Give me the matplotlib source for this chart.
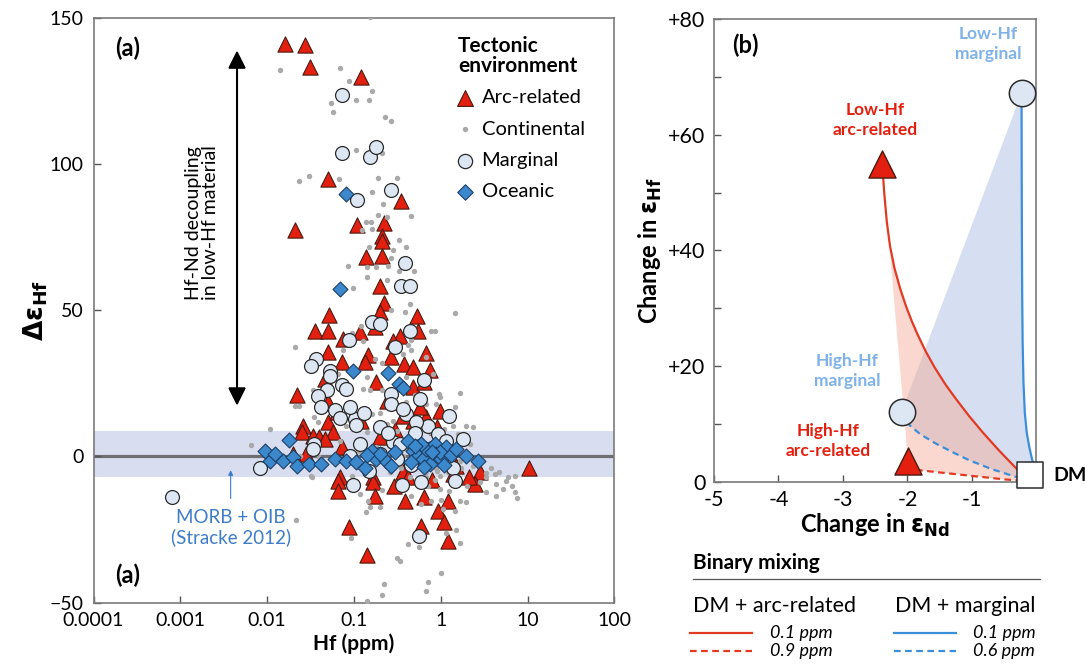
import matplotlib.pyplot as plt
from matplotlib.lines import Line2D
import numpy as np

plt.rcParams['font.family'] = ['Lato', 'DejaVu Sans']
plt.rcParams['mathtext.fontset'] = 'dejavusans'

# ---------------- panel (a): Hf (ppm) vs delta eps Hf ----------------
arc_hf = [0.016, 0.027, 0.031, 0.122,
          0.050, 0.35, 0.021, 0.109, 0.22, 0.213, 0.213, 0.137, 0.213, 0.198,
          0.22, 0.198, 0.052, 0.53, 0.036, 0.050, 0.174, 0.117, 0.55, 0.075, 0.34, 0.28,
          0.050, 0.145, 0.27, 0.68, 0.072, 0.133, 0.38, 0.48, 0.75, 0.046, 0.18, 0.48, 0.65, 0.022,
          0.026, 0.025, 0.050, 0.057, 0.034, 0.040, 0.046, 0.072, 0.028, 0.050, 0.063, 0.48,
          0.68, 0.97, 0.37, 0.57, 0.198, 2.8, 0.069, 0.166, 0.37, 0.020, 1.5,
          0.066, 0.065, 0.166, 0.174, 0.29, 0.385, 0.65, 1.21, 0.93, 1.08, 0.6, 1.21, 0.088,
          0.14, 2.5, 0.42, 10.4, 2.1,
          0.3, 0.55, 0.8, 1.4, 0.9, 0.24, 0.12]
arc_d = [141.3, 140.7, 133.2, 129.8,
         95, 87.6, 77.5, 79.4, 79.8, 75.6, 73.9, 68.2, 68.8, 58.2,
         52.5, 49.4, 48.6, 48.2, 42.9, 42.9, 44.2, 42.5, 42.9, 40.3, 41.4, 39.7,
         35.7, 34.9, 34, 35.4, 32.5, 32.3, 31.5, 30.6, 29.7, 26.6, 25.4, 23.7, 25.4, 20.9,
         10.5, 8.3, 11.7, 8.3, 7.1, 6.5, 6.0, 3.1, 0.9, 18.5, 15.1, 12.3,
         13.4, 15.7, 14, 16.8, 6.5, -5.4, -7.1, -7.1, -5.4, 0.9, -3.1,
         -8.3, -11.7, -8.9, -13.4, -10, -15.1, -14, -15.1, -18.6, -22.6, -23.9, -28.8, -24.3,
         -33.7, -9.4, -7.2, -3.8, -7,
         9, 6, -8, -6, 10, 19, 12]

cont_hf = [0.155, 0.014, 0.070, 0.087, 0.16, 0.107, 0.148, 0.055, 0.057, 0.23, 0.265, 0.107, 0.21,
           0.023, 0.030, 0.067, 0.19, 0.31, 0.16, 0.216, 0.19, 0.243, 0.45, 0.136, 0.156, 0.125,
           0.16, 0.33, 0.40, 0.148, 0.28, 0.27, 0.086, 0.142, 0.18, 0.25, 0.33, 0.49, 0.142,
           0.243, 0.098,
           1.45, 0.44, 0.021, 0.78, 0.85, 0.385, 0.27, 0.122, 0.094, 0.127, 0.46, 0.42, 0.075,
           0.46, 0.68, 0.174, 0.21, 0.37, 0.066, 0.14, 0.40, 0.81, 0.034, 0.127, 0.152, 0.21,
           0.956, 1.65, 0.97,
           0.0066, 0.0108, 0.021, 0.023, 0.0386, 0.035, 0.082, 0.16, 0.174, 0.24, 0.31, 1.39,
           1.98, 2.36, 1.6, 2.2, 3.35, 4.2, 4.7, 6.0, 7.1, 1.5, 1.65, 1.21, 0.97, 0.68, 0.44,
           0.26, 0.094, 0.032, 0.069, 0.14, 0.216, 0.31, 0.52, 0.89, 1.16, 2.36, 1.45, 0.89,
           0.68, 0.4, 0.024, 0.04, 0.113, 0.18, 0.37, 0.75, 0.68, 1.39,
           0.033, 0.117, 0.145, 0.155, 0.198, 0.137, 0.21, 0.0215, 0.093, 0.42, 0.56, 0.46,
           0.6, 0.78, 1.02, 1.06, 1.45, 1.5, 1.66, 1.16, 1.26, 1.65, 1.98, 2.8, 3.35, 4.3,
           4.3, 5.6, 6.6, 7.1, 7.6, 3.35, 0.31, 0.34, 1.0, 0.71, 0.22, 0.68, 0.21, 0.143,
           0.57, 0.97, 0.71,
           0.25, 0.3, 0.35, 0.4, 0.45, 0.55, 0.6, 0.7, 0.8, 0.9, 1.05, 1.2, 1.3, 1.7, 1.9,
           2.4, 0.12, 0.15, 0.5, 0.75, 1.1, 0.28, 0.65, 0.85, 1.3, 2.0, 3.8, 5.2, 0.2, 0.5]
cont_d = [150.4, 132.4, 132.9, 128.5, 125, 122.2, 122.2, 121.1, 117.8, 116.1, 115, 104.8, 104,
          94.2, 95.9, 95, 95.5, 95.5, 90.7, 86.4, 82.7, 82.1, 82.4, 80.1, 80.1, 77.5,
          77.9, 74.1, 71.8, 71.8, 70.7, 68, 65.1, 64.8, 65, 65.3, 63.6, 63.6, 61.3,
          60.5, 57.7,
          49, 52.2, 37.4, 42.9, 42.9, 49.4, 50.2, 44.8, 42.2, 39.7, 39.9, 38.3, 36.3,
          36.3, 34, 33.4, 31.9, 35.2, 28.3, 27.2, 27.2, 28.3, 22.8, 23.2, 22.6, 22.6,
          21.5, 21.7, 20.3,
          4, 9.4, 17.4, 17.4, 11.7, 13.4, 10.5, 14.6, 9.4, 11.1, 8.8, 10.5,
          10.5, 10, 7.7, 4.3, -5.8, -6, -5.4, -7.1, -6.6, 2, -1.4, -5.4, -6.6, -5.4, -7.1,
          -5.4, -6.6, -6.6, 5.4, 8.3, 7.7, 3.1, 0.9, -3.8, -0.8, -3.1, 16.8, 18,
          18, 18.5, 0.3, -0.3, 2, 3.1, 0.3, 2, -7.1, -6.6,
          -6.9, -12.8, -15.1, -17.4, -17.4, -18.9, -11.4, -21.8, -28, -30, -31.1, -13.4,
          -16.3, -15.1, -14.8, -18, -18.6, -25.1, -29.6, -26.2, -11.7, -15.1, -15.5, -8.9, -12.3, -13.4,
          -9.4, -8.3, -10, -12.1, -14.3, -7.2, -34.6, -35.7, -39.9, -42.9, -43.7, -46, -47.4, -49.4,
          -10, -11.1, -10,
          -2, 1, -4, 3, -1, -3, 1.5, -1, 3.5, -5, 2, -2.5, 4, -4, 1,
          -1, 6, -4, 6.5, 8.5, 9.5, 12, -9, -8, -9, -10, -4, -11, 15, 21]

marg_hf = [0.072, 0.072, 0.152, 0.178,
           0.27, 0.109, 0.39, 0.346, 0.44,
           0.16, 0.198, 0.44, 0.088, 0.30, 0.037, 0.032, 0.053, 0.053, 0.072, 0.080, 0.049,
           0.0386, 0.65, 0.27, 0.57,
           0.102, 0.107, 0.035, 0.034, 0.117, 0.28, 0.34, 0.40, 0.71, 1.25, 0.52, 0.27, 0.37,
           0.0082, 0.93, 1.16, 1.39, 0.09, 0.198, 0.31,
           0.098, 0.36, 0.6, 1.45, 0.56, 0.0008,
           0.042, 0.06, 0.07, 0.09, 0.13, 0.2, 0.25, 0.5, 0.8, 1.0, 0.45, 0.15, 1.8]
marg_d = [123.6, 104, 102.4, 105.9,
          91.2, 87.8, 66.1, 58.5, 58.5,
          46, 45.4, 42.9, 39.9, 37.6, 33.4, 30.8, 29.4, 27.7, 24.3, 23.2, 22.6,
          20.6, 26.3, 21.5, 19.8,
          12.9, 10.9, 4.3, 2.6, 4.3, 4.8, 4.3, 14.6, 10.5, 14, 11.7, 18, 16.2,
          -3.8, 7.7, 5.4, -3.8, 0.3, 0.9, -0.8,
          -9.8, -9.8, -8.6, -8.3, -27.1, -14,
          17, 16, 13, 17, 15, 10, 8, 8, 3, -1, -3, -5, 6]

ocean_hf = [0.080, 0.070, 0.098, 0.25, 0.33, 0.37,
            0.0094, 0.0107, 0.0122, 0.0152, 0.018, 0.020, 0.022, 0.030, 0.042, 0.060, 0.082,
            0.107, 0.133, 0.16, 0.18, 0.237, 0.27, 0.42, 0.48, 0.55, 0.625, 0.68, 0.75, 0.85,
            0.89, 1.02, 1.16, 1.98, 2.69, 0.6, 0.97,
            0.3, 0.45, 0.5, 0.65, 0.8, 1.1, 1.3, 1.5, 0.2, 0.14]
ocean_d = [89.9, 57.4, 29.4, 28.5, 24.9, 23.5,
           2, -1.4, 0.9, -1.4, 5.7, -0.3, -3.1, -2.6, -2.6, -0.8, -1.4,
           -2, -3.8, 2, -0.8, -1.4, -3.1, 5.4, 2, 0.3, -0.8, 2.6, -2.6, 4.3,
           0.9, -0.8, 3.1, 0.3, -1.7, 4.3, 1.4,
           1.5, -2, 3.5, -3.5, 1.5, -3, 0.5, 2.5, 1, 0.5]

morb_band = [-6.9, 8.8]
legend_labels = ['Arc-related', 'Continental', 'Marginal', 'Oceanic']

# ---------------- panel (b): binary mixing ----------------
red_solid_x = [-2.39, -2.36, -2.32, -2.27, -2.20, -2.11, -2.02, -1.93, -1.84, -1.71, -1.58,
               -1.41, -1.24, -1.04, -0.83, -0.58, -0.33, -0.15]
red_solid_y = [55.0, 50.0, 45.0, 40.75, 36.9, 33.3, 30.3, 27.7, 25.4, 22.4, 19.8,
               16.8, 14.2, 11.3, 8.5, 5.4, 2.5, 0.6]
red_dash_x = [-1.99, -1.83, -1.5, -1.0, -0.5, -0.15]
red_dash_y = [3.5, 2.0, 1.6, 1.0, 0.4, 0.1]
blue_solid_x = [-0.23, -0.228, -0.225, -0.22, -0.213, -0.20, -0.18, -0.15, -0.11, -0.07,
                -0.04, -0.02]
blue_solid_y = [67.2, 55, 43, 32, 24, 17, 12, 8.5, 6, 4, 2.8, 2]
blue_dash_x = [-2.09, -1.97, -1.80, -1.56, -1.30, -1.04, -0.70, -0.31, -0.15]
blue_dash_y = [12.1, 9.8, 8.2, 6.6, 5.1, 3.7, 2.2, 0.8, 0.4]

arc_end_x = [-2.39, -1.99]
arc_end_y = [55.0, 3.5]
marg_end_x = [-0.23, -2.09]
marg_end_y = [67.2, 12.1]
dm_x, dm_y = -0.1, 1.2

mix_labels = ['0.1 ppm', '0.9 ppm', '0.1 ppm', '0.6 ppm']

RED = '#e3200f'
RED_LINE = '#e23a22'
BLUE_LINE = '#3b8fd8'
LBLUE_TXT = '#7fb2e6'

fig = plt.figure(figsize=(10.85, 6.69), dpi=100)

# ======== panel (a) ========
ax = fig.add_axes([0.0862, 0.0994, 0.48, 0.8732])
ax.set_xscale('log')
ax.set_xlim(1e-4, 100)
ax.set_ylim(-50, 150)
ax.axhspan(morb_band[0], morb_band[1], color='#d8ddef', lw=0, zorder=0)
ax.axhline(0, color='#6e6e74', lw=2.3, zorder=1)

ax.scatter(arc_hf, arc_d, marker='^', s=120, c=RED, edgecolors='#4a1a10', linewidths=0.8, zorder=3)
ax.scatter(cont_hf, cont_d, s=15, c='#a9a9a9', linewidths=0, zorder=4)
ax.scatter(marg_hf, marg_d, s=100, c='#dde7f3', edgecolors='#2b2b2b', linewidths=0.9, zorder=5)
ax.scatter(ocean_hf, ocean_d, marker='D', s=58, c='#3b88cc', edgecolors='#1d3f66', linewidths=0.8, zorder=6)

ax.set_xticks([1e-4, 1e-3, 1e-2, 1e-1, 1, 10, 100])
ax.set_xticklabels(['0.0001', '0.001', '0.01', '0.1', '1', '10', '100'])
ax.minorticks_off()
ax.set_yticks([-50, 0, 50, 100, 150])
ax.tick_params(direction='in', length=5, width=1, color='#555555', labelsize=14, pad=7)
for sp in ax.spines.values():
    sp.set_color('#7a7a7a')
    sp.set_linewidth(1.2)
ax.set_xlabel('Hf (ppm)', fontweight='bold', fontsize=15, labelpad=3)
ax.set_ylabel(r'$\mathbf{\Delta\varepsilon_{Hf}}$', fontsize=19, labelpad=0)

# decoupling arrow + text
ax.annotate('', xy=(0.0045, 139), xytext=(0.0045, 17.4),
            arrowprops=dict(arrowstyle='<|-|>', color='black', lw=1.5, mutation_scale=27,
                            shrinkA=0, shrinkB=0))
ax.text(0.00177, 80, 'Hf-Nd decoupling\nin low-Hf material', rotation=90, ha='center',
        va='center', fontsize=14, linespacing=1.05)
ax.annotate('', xy=(0.0038, -4.7), xytext=(0.0038, -14.4),
            arrowprops=dict(arrowstyle='-|>', color='#3d7cc9', lw=0.8, mutation_scale=7,
                            shrinkA=0, shrinkB=0))
ax.text(0.0038, -24.3, 'MORB + OIB\n(Stracke 2012)', color='#3d7cc9', ha='center', va='center',
        fontsize=13.5, linespacing=1.15)

ax.text(0.065, 0.949, '(a)', transform=ax.transAxes, fontweight='bold', fontsize=17,
        ha='center', va='center')
ax.text(0.065, 0.047, '(a)', transform=ax.transAxes, fontweight='bold', fontsize=17,
        ha='center', va='center')

# manual legend
ax.text(0.70, 0.936, 'Tectonic\nenvironment', transform=ax.transAxes, fontweight='bold',
        fontsize=15, ha='left', va='center', linespacing=1.0)
leg_y = [0.864, 0.810, 0.756, 0.703]
ax.scatter([0.713], [leg_y[0]], transform=ax.transAxes, marker='^', s=130, c=RED,
           edgecolors='#4a1a10', linewidths=0.8, zorder=7)
ax.scatter([0.713], [leg_y[1]], transform=ax.transAxes, s=15, c='#a9a9a9', linewidths=0, zorder=7)
ax.scatter([0.713], [leg_y[2]], transform=ax.transAxes, s=105, c='#dde7f3', edgecolors='#2b2b2b',
           linewidths=0.9, zorder=7)
ax.scatter([0.713], [leg_y[3]], transform=ax.transAxes, marker='D', s=62, c='#3b88cc',
           edgecolors='#1d3f66', linewidths=0.8, zorder=7)
for lab, yy in zip(legend_labels, leg_y):
    ax.text(0.745, yy, lab, transform=ax.transAxes, fontsize=14.5, ha='left', va='center')

# ======== panel (b) ========
ax2 = fig.add_axes([0.658, 0.28, 0.2972, 0.6916])
ax2.set_xlim(-5, 0)
ax2.set_ylim(0, 80)

blue_poly_x = np.concatenate([blue_solid_x, blue_dash_x[::-1]])
blue_poly_y = np.concatenate([blue_solid_y, blue_dash_y[::-1]])
ax2.fill(blue_poly_x, blue_poly_y, color='#d5dff1', lw=0, zorder=1)
red_poly_x = np.concatenate([red_solid_x, red_dash_x[::-1]])
red_poly_y = np.concatenate([red_solid_y, red_dash_y[::-1]])
ax2.fill(red_poly_x, red_poly_y, color='#f8a995', alpha=0.45, lw=0, zorder=2)

ax2.plot(red_solid_x, red_solid_y, color=RED_LINE, lw=1.6, zorder=3)
ax2.plot(red_dash_x, red_dash_y, color=RED_LINE, lw=1.6, ls=(0, (3, 2)), zorder=3)
ax2.plot(blue_solid_x, blue_solid_y, color=BLUE_LINE, lw=1.6, zorder=3)
ax2.plot(blue_dash_x, blue_dash_y, color=BLUE_LINE, lw=1.6, ls=(0, (3, 2)), zorder=3)

ax2.scatter(arc_end_x, arc_end_y, marker='^', s=380, c=RED, edgecolors='#4a1a10',
            linewidths=1.0, zorder=5, clip_on=False)
ax2.scatter(marg_end_x, marg_end_y, s=360, c='#dde7f3', edgecolors='#2b2b2b',
            linewidths=1.1, zorder=5, clip_on=False)
ax2.scatter([dm_x], [dm_y], marker='s', s=330, c='white', edgecolors='#2b2b2b',
            linewidths=1.1, zorder=6, clip_on=False)

ax2.set_xticks([-5, -4, -3, -2, -1, 0])
ax2.set_xticklabels(['-5', '-4', '-3', '-2', '-1', ''])
ax2.set_yticks([0, 20, 40, 60, 80])
ax2.set_yticklabels(['0', '+20', '+40', '+60', '+80'])
ax2.set_yticks([10, 30, 50, 70], minor=True)
ax2.tick_params(which='both', direction='in', length=5, width=1, color='#555555',
                labelsize=15.5, pad=6)
for sp in ax2.spines.values():
    sp.set_color('#7a7a7a')
    sp.set_linewidth(1.2)
ax2.set_xlabel(r'Change in $\mathbf{\varepsilon_{Nd}}$', fontweight='bold', fontsize=17, labelpad=1)
ax2.set_ylabel(r'Change in $\mathbf{\varepsilon_{Hf}}$', fontweight='bold', fontsize=17, labelpad=3)

ax2.text(0.096, 0.944, '(b)', transform=ax2.transAxes, fontweight='bold', fontsize=17,
         ha='center', va='center')
ax2.text(-0.75, 75.7, 'Low-Hf\nmarginal', color=LBLUE_TXT, fontweight='bold', fontsize=12.5,
         ha='center', va='center', linespacing=1.3)
ax2.text(-2.50, 62.5, 'Low-Hf\narc-related', color=RED, fontweight='bold', fontsize=12.5,
         ha='center', va='center', linespacing=1.3)
ax2.text(-2.94, 19.1, 'High-Hf\nmarginal', color=LBLUE_TXT, fontweight='bold', fontsize=12.5,
         ha='center', va='center', linespacing=1.3)
ax2.text(-3.23, 7.0, 'High-Hf\narc-related', color=RED, fontweight='bold', fontsize=12.5,
         ha='center', va='center', linespacing=1.3)
ax2.text(0.26, 1.15, 'DM', fontweight='bold', fontsize=14, ha='left', va='center')

# ======== binary mixing key (figure coords) ========
fig.text(0.6387, 0.1584, 'Binary mixing', fontweight='bold', fontsize=15, ha='left', va='center')
fig.add_artist(Line2D([0.6387, 0.9585], [0.1345, 0.1345], color='#555555', lw=0.9))
fig.text(0.6387, 0.0942, 'DM + arc-related', fontsize=15.5, ha='left', va='center')
fig.text(0.8249, 0.0942, 'DM + marginal', fontsize=15.5, ha='left', va='center')
key_y = [0.0538, 0.0269]
for i, yy in enumerate(key_y):
    ls = '-' if i == 0 else (0, (3, 2))
    fig.add_artist(Line2D([0.636, 0.693], [yy, yy], color=RED_LINE, lw=1.6, ls=ls))
    fig.add_artist(Line2D([0.824, 0.881], [yy, yy], color=BLUE_LINE, lw=1.6, ls=ls))
    fig.text(0.7097, yy, mix_labels[i], fontsize=13, style='italic', ha='left', va='center')
    fig.text(0.8968, yy, mix_labels[i + 2], fontsize=13, style='italic', ha='left', va='center')

fig.savefig('out.png', dpi=100)
